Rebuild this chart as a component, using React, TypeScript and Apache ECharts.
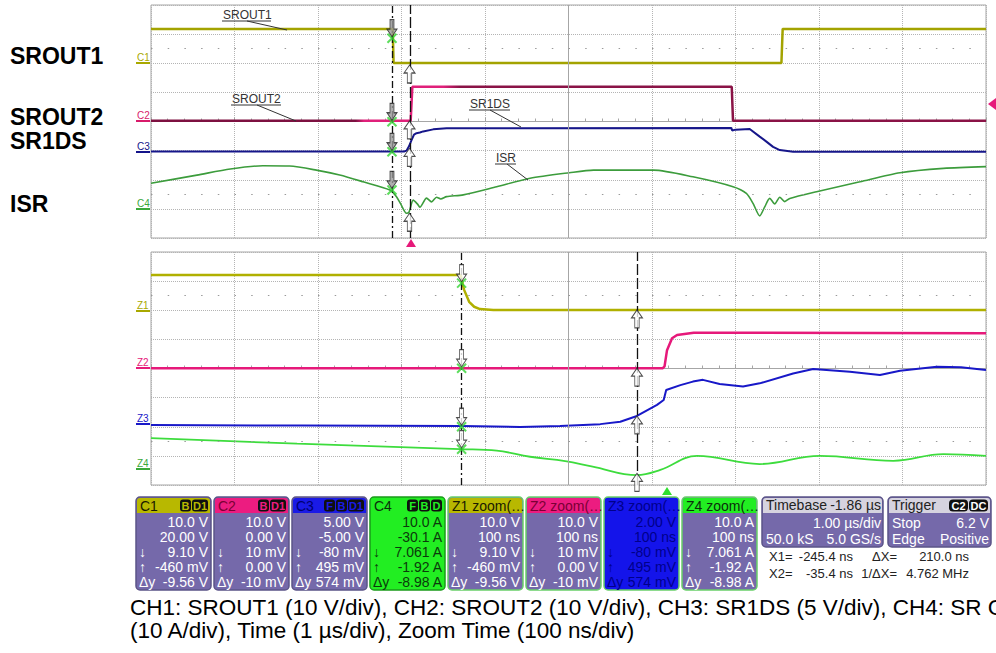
import React, { useEffect, useRef } from "react";
import * as echarts from "echarts";

const FONT = "'Liberation Sans', Arial, Helvetica, sans-serif";

// ---------- Main acquisition (1 µs/div) : [time in div, level in div from screen centre]
const srout1Main = [[0, 3.18], [2.895, 3.18], [2.905, 2.01], [7.55, 2.01], [7.565, 3.18], [10, 3.18]];
const srout2Main = [[0, 0.03], [3.11, 0.03], [3.13, 1.19], [6.955, 1.19], [6.97, 0.03], [10, 0.03]];
const sr1dsMain = [
  [0, -1.03], [3.03, -1.03], [3.06, -1.0], [3.09, -0.85], [3.12, -0.64], [3.15, -0.45], [3.18, -0.4],
  [3.22, -0.38], [3.26, -0.34], [3.38, -0.27], [3.54, -0.23], [6.95, -0.22], [6.96, -0.31], [7.0, -0.28],
  [7.17, -0.26], [7.29, -0.52], [7.37, -0.69], [7.45, -0.87], [7.53, -0.98], [7.69, -1.04], [10, -1.04],
];
const isrMain = [
  [0, -2.12], [0.55, -1.84], [0.95, -1.63], [1.34, -1.52], [1.66, -1.53], [1.98, -1.67], [2.26, -1.84],
  [2.54, -2.07], [2.86, -2.35], [2.94, -2.58], [2.99, -2.83], [3.06, -3.15], [3.09, -3.11], [3.14, -2.7],
  [3.19, -2.83], [3.22, -2.94], [3.3, -2.63], [3.36, -2.76], [3.42, -2.6], [3.47, -2.66], [3.54, -2.58],
  [3.74, -2.52], [4.14, -2.24], [4.54, -1.95], [5.01, -1.76], [5.3, -1.67], [6.02, -1.67], [6.49, -1.9],
  [6.97, -2.24], [7.13, -2.47], [7.21, -2.81], [7.29, -3.24], [7.35, -2.93], [7.41, -2.64], [7.47, -2.83],
  [7.53, -2.6], [7.59, -2.75], [7.65, -2.64], [7.97, -2.41], [8.49, -2.07], [8.97, -1.76], [9.49, -1.61],
  [10, -1.55],
];

// ---------- Zoom traces (100 ns/div)
const srout1Zoom = [[0, 3.21], [3.71, 3.21], [3.73, 2.93], [3.75, 2.7], [3.81, 2.29], [3.87, 2.12], [3.94, 2.04], [4.1, 2.01], [10, 2.01]];
const srout2Zoom = [[0, 0.01], [6.13, 0.01], [6.15, 0.07], [6.18, 0.63], [6.24, 1.04], [6.3, 1.15], [6.5, 1.23], [10, 1.21]];
const sr1dsZoom = [
  [0, -1.94], [1.8, -1.96], [3.72, -1.97], [4.42, -2.01], [4.9, -1.97], [5.38, -1.91], [5.62, -1.83],
  [5.82, -1.63], [6.06, -1.25], [6.14, -1.08], [6.17, -0.74], [6.34, -0.57], [6.49, -0.45], [6.61, -0.39],
  [6.81, -0.53], [7.09, -0.62], [7.29, -0.51], [7.69, -0.17], [7.93, -0.02], [8.37, -0.11], [8.73, -0.22],
  [8.97, -0.08], [9.41, 0.06], [9.7, 0.04], [10, -0.05],
];
const isrZoom = [
  [0, -2.39], [1.75, -2.58], [3.7, -2.77], [4.14, -2.82], [4.54, -3.03], [4.96, -3.18], [5.29, -3.37],
  [5.82, -3.66], [6.1, -3.48], [6.54, -3.0], [7.29, -3.28], [8.01, -3.0], [8.89, -3.17], [9.49, -2.94], [10, -3.0],
];

// ---------- Cursors (div) and their marker levels
const mainCursors = [2.886, 3.096];
const zoomCursors = [3.72, 5.82];
const mainX1Levels = [2.86, -0.01, -1.04, -2.35];
const mainX2Levels = [1.94, 0.02, -0.92, -3.15];
const zoomX1Levels = [2.93, 0.01, -2.0, -2.77];
const zoomX2Levels = [2.01, 0.01, -1.63, -3.6];
const gridTickRows = [2.5, -2.5];

// ---------- Labels
const sideLabels = ["SROUT1", "SROUT2", "SR1DS", "ISR"];
const traceNotes = ["SROUT1", "SROUT2", "SR1DS", "ISR"];
const mainMarkers = ["C1", "C2", "C3", "C4"];
const zoomMarkers = ["Z1", "Z2", "Z3", "Z4"];

// ---------- Readout panel
const channelTitles = ["C1", "C2", "C3", "C4", "Z1 zoom(…", "Z2 zoom(…", "Z3 zoom(…", "Z4 zoom(…"];
const channelBadges = [["B", "D1"], ["B", "D1"], ["F", "B", "D1"], ["F", "B", "D"], [], [], [], []];
const channelReadouts = [
  ["10.0 V", "20.00 V", "9.10 V", "-460 mV", "-9.56 V"],
  ["10.0 V", "0.00 V", "10 mV", "0.00 V", "-10 mV"],
  ["5.00 V", "-5.00 V", "-80 mV", "495 mV", "574 mV"],
  ["10.0 A", "-30.1 A", "7.061 A", "-1.92 A", "-8.98 A"],
  ["10.0 V", "100 ns", "9.10 V", "-460 mV", "-9.56 V"],
  ["10.0 V", "100 ns", "10 mV", "0.00 V", "-10 mV"],
  ["2.00 V", "100 ns", "-80 mV", "495 mV", "574 mV"],
  ["10.0 A", "100 ns", "7.061 A", "-1.92 A", "-8.98 A"],
];
const readoutRowMarks = ["", "", "↓", "↑", "Δy"];
const timebaseRows = [["Timebase", "-1.86 µs"], ["", "1.00 µs/div"], ["50.0 kS", "5.0 GS/s"]];
const triggerRows = [["Trigger", ""], ["Stop", "6.2 V"], ["Edge", "Positive"]];
const triggerBadges = ["C2", "DC"];
const cursorReadouts = [
  ["X1=", "-245.4 ns", "ΔX=", "210.0 ns"],
  ["X2=", "-35.4 ns", "1/ΔX=", "4.762 MHz"],
];
const captionLines = [
  "CH1: SROUT1 (10 V/div), CH2: SROUT2 (10 V/div), CH3: SR1DS (5 V/div), CH4: SR C",
  "(10 A/div), Time (1 µs/div), Zoom Time (100 ns/div)",
];

// ---------- styles
const MAIN_COLORS = ["#a3a300", "#8a1346", "#16168a", "#3c9c3c"];
const ZOOM_COLORS = ["#b0b000", "#e6197a", "#1818c8", "#3ddc3d"];
const MARK_COLORS = ["#a8a800", "#d81b6a", "#14148a", "#3aa83a"];
const ZMARK_COLORS = ["#a8a800", "#e6197a", "#1818c8", "#3aa83a"];
const UP_ARROW = "path://M5,0 L10,8 L7,8 L7,18 L3,18 L3,8 L0,8 Z";
const DOWN_ARROW = "path://M3,0 L7,0 L7,10 L10,10 L5,18 L0,10 L3,10 Z";
const X_MARK = "path://M0,0 L10,10 M10,0 L0,10";

const PURPLE = "#7569aa";
const boxStyles = [
  { head: "#b8b800", hText: "#1a1a00", body: PURPLE, val: "#ffffff", border: "#5b5488" },
  { head: "#ec1c80", hText: "#7a0034", body: PURPLE, val: "#ffffff", border: "#5b5488" },
  { head: "#1a1ae6", hText: "#000070", body: PURPLE, val: "#ffffff", border: "#5b5488" },
  { head: "#22ee22", hText: "#0b2e0b", body: "#22ee22", val: "#0b3a0b", border: "#1a9a1a" },
  { head: "#b8b800", hText: "#1a1a00", body: PURPLE, val: "#ffffff", border: "#6ad06a" },
  { head: "#ec1c80", hText: "#7a0034", body: PURPLE, val: "#ffffff", border: "#6ad06a" },
  { head: "#1414ea", hText: "#00008a", body: "#1414ea", val: "#00008a", border: "#6ad06a" },
  { head: "#22ee22", hText: "#0b2e0b", body: PURPLE, val: "#ffffff", border: "#6ad06a" },
];

function txt(x: number, y: number, text: string, o: any = {}) {
  const align = o.align || "left";
  const va = o.va || "middle";
  return {
    type: "text",
    x,
    y,
    silent: true,
    z: o.z || 10,
    style: {
      text,
      fill: o.fill || "#000",
      fontSize: o.size || 13,
      fontFamily: FONT,
      fontWeight: o.weight || "normal",
      textAlign: align,
      align,
      textVerticalAlign: va,
      verticalAlign: va,
    },
  };
}
function rect(x: number, y: number, w: number, h: number, fill: string, o: any = {}) {
  return {
    type: "rect",
    silent: true,
    z: o.z || 5,
    shape: { x, y, width: w, height: h, r: o.r || 0 },
    style: { fill, stroke: o.stroke || null, lineWidth: o.lw || 1 },
  };
}
function ln(x1: number, y1: number, x2: number, y2: number, stroke: string, lw = 1) {
  return { type: "line", silent: true, z: 10, shape: { x1, y1, x2, y2 }, style: { stroke, lineWidth: lw } };
}
function poly(points: number[][], fill: string) {
  return { type: "polygon", silent: true, z: 10, shape: { points }, style: { fill } };
}

function buildGraphics() {
  const g: any[] = [];
  // side labels
  const sideY = [56, 117, 141, 204];
  sideLabels.forEach((t, i) => g.push(txt(10, sideY[i], t, { size: 23, weight: "bold" })));
  // channel ground markers
  const mY = [63, 121, 152, 209];
  mainMarkers.forEach((t, i) => {
    g.push(txt(137, mY[i] - 1, t, { size: 10, fill: MARK_COLORS[i], va: "bottom" }));
    g.push(ln(136, mY[i], 150, mY[i], MARK_COLORS[i], 2));
  });
  const zY = [311, 368, 424, 469];
  zoomMarkers.forEach((t, i) => {
    g.push(txt(137, zY[i] - 1, t, { size: 10, fill: ZMARK_COLORS[i], va: "bottom" }));
    g.push(ln(136, zY[i], 150, zY[i], ZMARK_COLORS[i], 2));
  });
  // trace annotations with leader lines
  const notes = [
    { x: 223, y: 15, w: 48, lx1: 247, ly1: 21, lx2: 287, ly2: 30 },
    { x: 232, y: 99, w: 49, lx1: 257, ly1: 105, lx2: 296, ly2: 121 },
    { x: 470, y: 104, w: 40, lx1: 490, ly1: 110, lx2: 521, ly2: 127 },
    { x: 496, y: 158, w: 20, lx1: 507, ly1: 164, lx2: 528, ly2: 180 },
  ];
  traceNotes.forEach((t, i) => {
    const n = notes[i];
    g.push(txt(n.x, n.y, t, { size: 12, fill: "#333" }));
    g.push(ln(n.x - 1, n.y + 6, n.x + n.w, n.y + 6, "#333", 1));
    g.push(ln(n.lx1, n.ly1, n.lx2, n.ly2, "#333", 1));
  });
  // trigger markers
  g.push(poly([[406, 247], [416, 247], [411, 239]], "#e6197a"));
  g.push(poly([[996, 98], [996, 110], [988, 104]], "#e6197a"));
  g.push(poly([[662, 495], [672, 495], [667, 487]], "#2ee02e"));

  // channel readout boxes
  const X0 = 136, STEP = 78, W = 75, Y0 = 497, H = 93, HH = 15;
  const rowY = [522, 537, 552, 567, 582];
  channelTitles.forEach((title, i) => {
    const s = boxStyles[i];
    const bx = X0 + i * STEP;
    g.push(rect(bx, Y0, W, H, s.body, { r: 4, stroke: s.border, lw: 1.5 }));
    g.push(rect(bx + 1, Y0 + 1, W - 2, HH, s.head, { r: [3, 3, 0, 0], z: 6 }));
    g.push(txt(bx + 4, Y0 + 8.5, title, { size: 14, fill: s.hText }));
    let rx = bx + W - 3;
    const badges = channelBadges[i];
    for (let k = badges.length - 1; k >= 0; k--) {
      const bw = badges[k].length > 1 ? 16 : 11;
      g.push(rect(rx - bw, Y0 + 2.5, bw, 12, "#101010", { r: 3, z: 7 }));
      g.push(txt(rx - bw / 2, Y0 + 9, badges[k], { size: 11, fill: s.head, align: "center", weight: "bold" }));
      rx -= bw + 1;
    }
    channelReadouts[i].forEach((v, r) => {
      g.push(txt(bx + W - 3, rowY[r], v, { size: 14, fill: s.val, align: "right" }));
      if (readoutRowMarks[r]) g.push(txt(bx + 3, rowY[r], readoutRowMarks[r], { size: 14, fill: s.val }));
    });
  });

  // timebase + trigger boxes
  const panels = [
    { x: 762, w: 121, rows: timebaseRows, badges: [] as string[] },
    { x: 888, w: 103, rows: triggerRows, badges: triggerBadges },
  ];
  const pRowY = [505, 523, 539];
  panels.forEach((p) => {
    g.push(rect(p.x, Y0, p.w, 50, PURPLE, { r: 4, stroke: "#5b5488", lw: 1.5 }));
    g.push(rect(p.x + 1, Y0 + 1, p.w - 2, 15, "#d6d3df", { r: [3, 3, 0, 0], z: 6 }));
    p.rows.forEach((row, r) => {
      const col = r === 0 ? "#222" : "#ffffff";
      if (row[0]) g.push(txt(p.x + 4, pRowY[r], row[0], { size: 14, fill: col }));
      if (row[1]) g.push(txt(p.x + p.w - 2, pRowY[r], row[1], { size: 14, fill: col, align: "right" }));
    });
    let rx = p.x + p.w - 3;
    for (let k = p.badges.length - 1; k >= 0; k--) {
      const bw = 19;
      g.push(rect(rx - bw, Y0 + 2.5, bw, 12, "#101010", { r: 4, z: 7 }));
      g.push(txt(rx - bw / 2, Y0 + 9, p.badges[k], { size: 11, fill: "#ffffff", align: "center", weight: "bold" }));
      rx -= bw + 1;
    }
  });
  // cursor readouts
  const cY = [556, 573];
  cursorReadouts.forEach((row, r) => {
    g.push(txt(769, cY[r], row[0], { size: 13, fill: "#222" }));
    g.push(txt(853, cY[r], row[1], { size: 13, fill: "#222", align: "right" }));
    g.push(txt(897, cY[r], row[2], { size: 13, fill: "#222", align: "right" }));
    g.push(txt(969, cY[r], row[3], { size: 13, fill: "#222", align: "right" }));
  });
  // caption
  const capY = [607, 630];
  captionLines.forEach((t, i) => g.push(txt(130, capY[i], t, { size: 22.5, fill: "#000" })));
  return g;
}

function axesFor(gi: number) {
  const grey = "#a6a6a6";
  return {
    x: {
      gridIndex: gi,
      type: "value",
      min: 0,
      max: 10,
      interval: 1,
      axisLine: { show: true, onZero: true, lineStyle: { color: grey, width: 1 } },
      axisTick: { show: true, inside: true, length: 4, lineStyle: { color: grey } },
      minorTick: { show: true, splitNumber: 5, length: 3, lineStyle: { color: grey } },
      axisLabel: { show: false },
      splitLine: { show: true, lineStyle: { color: "#b4b4b4", type: "dotted", width: 1 } },
    },
    y: {
      gridIndex: gi,
      type: "value",
      min: -4,
      max: 4,
      interval: 1,
      axisLine: { show: false },
      axisTick: { show: false },
      axisLabel: { show: false },
      splitLine: { show: true, lineStyle: { color: "#b4b4b4", type: "dotted", width: 1 } },
    },
  };
}

function panelSeries(
  gi: number,
  traces: number[][][],
  colors: any[],
  widths: number[],
  smooth: number[],
  cursors: number[],
  x1Levels: number[],
  x2Levels: number[],
  downFill: string
) {
  const s: any[] = traces.map((data, i) => ({
    type: "line",
    xAxisIndex: gi,
    yAxisIndex: gi,
    data,
    symbol: "none",
    showSymbol: false,
    smooth: smooth[i],
    lineStyle: { color: colors[i], width: widths[i] },
    z: 3,
    silent: true,
  }));
  s.push({
    type: "scatter",
    xAxisIndex: gi,
    yAxisIndex: gi,
    data: x1Levels.map((v) => [cursors[0], v]),
    symbol: X_MARK,
    symbolSize: 9,
    itemStyle: { color: "rgba(0,0,0,0)", borderColor: "#35d435", borderWidth: 2 },
    z: 6,
    silent: true,
    markLine: {
      silent: true,
      symbol: ["none", "none"],
      label: { show: false },
      data: [
        { xAxis: 5, lineStyle: { type: "solid", color: "#a6a6a6", width: 1 } },
        ...gridTickRows.map((v) => ({ yAxis: v, lineStyle: { type: [1.5, 15.2], color: "#9a9a9a", width: 1 } })),
        { xAxis: cursors[0], lineStyle: { type: [7, 3, 2, 3], color: "#111", width: 1.3 } },
        { xAxis: cursors[1], lineStyle: { type: [11, 3], color: "#111", width: 1.3 } },
      ],
    },
  });
  s.push({
    type: "scatter",
    xAxisIndex: gi,
    yAxisIndex: gi,
    data: x1Levels.map((v) => [cursors[0], v]),
    symbol: DOWN_ARROW,
    symbolSize: [10, 17],
    symbolOffset: [0, -10],
    itemStyle: { color: downFill, borderColor: "#222", borderWidth: 1 },
    z: 7,
    silent: true,
  });
  s.push({
    type: "scatter",
    xAxisIndex: gi,
    yAxisIndex: gi,
    data: x2Levels.map((v) => [cursors[1], v]),
    symbol: UP_ARROW,
    symbolSize: [11, 18],
    symbolOffset: [0, 9],
    itemStyle: { color: "#ffffff", borderColor: "#222", borderWidth: 1 },
    z: 7,
    silent: true,
  });
  return s;
}

export default function App() {
  const ref = useRef<HTMLDivElement>(null);
  useEffect(() => {
    if (!ref.current) return;
    const chart = echarts.init(ref.current, undefined, { renderer: "svg" });
    const a0 = axesFor(0);
    const a1 = axesFor(1);
    const srout2Gradient = new echarts.graphic.LinearGradient(0, 0, 1, 0, [
      { offset: 0, color: "#7d1040" },
      { offset: 0.245, color: "#7d1040" },
      { offset: 0.255, color: "#e0207a" },
      { offset: 0.35, color: "#e0207a" },
      { offset: 0.37, color: "#8a1346" },
      { offset: 1, color: "#8a1346" },
    ]);
    const mainCols = [MAIN_COLORS[0], srout2Gradient, MAIN_COLORS[2], MAIN_COLORS[3]];
    const option: any = {
      animation: false,
      backgroundColor: "#ffffff",
      grid: [
        { left: 151, top: 5, width: 835, height: 233, show: true, borderColor: "#a6a6a6", borderWidth: 1, backgroundColor: "transparent" },
        { left: 151, top: 252, width: 835, height: 233, show: true, borderColor: "#a6a6a6", borderWidth: 1, backgroundColor: "transparent" },
      ],
      xAxis: [a0.x, a1.x],
      yAxis: [a0.y, a1.y],
      series: [
        ...panelSeries(0, [srout1Main, srout2Main, sr1dsMain, isrMain], mainCols, [2.5, 2.5, 2, 1.6], [0, 0, 0, 0.25], mainCursors, mainX1Levels, mainX2Levels, "#9a9a9a"),
        ...panelSeries(1, [srout1Zoom, srout2Zoom, sr1dsZoom, isrZoom], ZOOM_COLORS, [2.5, 2.5, 2, 1.8], [0, 0, 0, 0.4], zoomCursors, zoomX1Levels, zoomX2Levels, "#ffffff"),
      ],
      graphic: { elements: buildGraphics() },
    };
    chart.setOption(option);
    return () => chart.dispose();
  }, []);
  return (
    <div
      ref={ref}
      style={{ position: "absolute", left: 0, top: 0, width: 996, height: 653, background: "#fff" }}
    />
  );
}
